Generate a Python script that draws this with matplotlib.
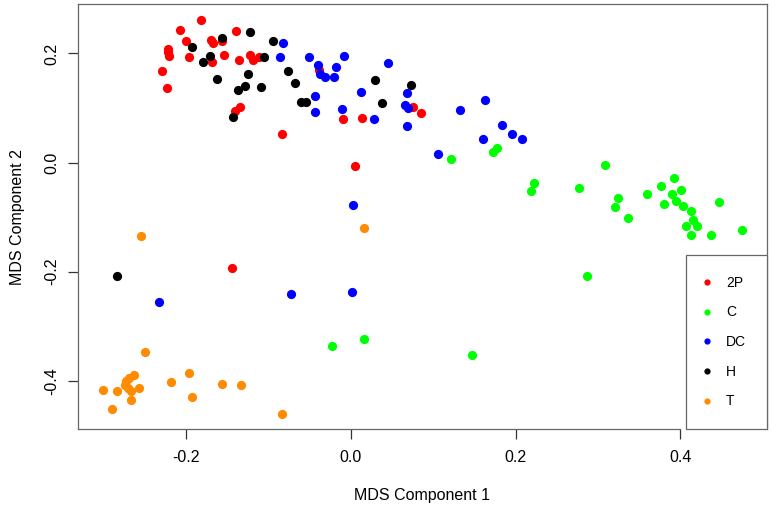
import matplotlib
matplotlib.use("Agg")
import matplotlib.pyplot as plt
from matplotlib.lines import Line2D

plt.rcParams['font.family'] = ['Liberation Sans', 'DejaVu Sans']

groups = ["2P", "C", "DC", "H", "T"]
colors = ["#FF0000", "#00FF00", "#0000FF", "#000000", "#FF8C00"]

x_2p = [-0.182, -0.207, -0.200, -0.222, -0.222, -0.221, -0.197, -0.230, -0.223,
        -0.170, -0.168, -0.156, -0.154, -0.169, -0.140, -0.136, -0.122, -0.119,
        -0.112, -0.141, -0.135, -0.084, -0.039, -0.009, 0.014, 0.075, 0.085,
        0.005, -0.144]
y_2p = [0.261, 0.243, 0.223, 0.209, 0.203, 0.196, 0.194, 0.168, 0.137,
        0.225, 0.219, 0.223, 0.198, 0.184, 0.241, 0.188, 0.198, 0.188,
        0.193, 0.095, 0.101, 0.053, 0.170, 0.080, 0.082, 0.102, 0.091,
        -0.006, -0.194]

x_c = [0.121, 0.172, 0.177, 0.223, 0.219, 0.309, 0.277, 0.324, 0.321, 0.336,
       0.360, 0.377, 0.392, 0.401, 0.390, 0.380, 0.395, 0.403, 0.413, 0.415,
       0.407, 0.420, 0.413, 0.437, 0.447, 0.475, 0.287, 0.147, -0.023, 0.016]
y_c = [0.007, 0.019, 0.026, -0.038, -0.052, -0.005, -0.047, -0.065, -0.081, -0.102,
       -0.058, -0.042, -0.028, -0.050, -0.058, -0.075, -0.071, -0.079, -0.089, -0.106,
       -0.116, -0.116, -0.133, -0.133, -0.072, -0.124, -0.207, -0.353, -0.337, -0.323]

x_dc = [-0.083, -0.086, -0.051, -0.040, -0.018, -0.008, -0.038, -0.031, -0.021,
        -0.043, -0.044, -0.011, 0.045, 0.012, 0.028, 0.068, 0.066, 0.069, 0.068,
        0.133, 0.163, 0.184, 0.196, 0.208, 0.161, 0.106, 0.003, -0.233, -0.073, 0.001]
y_dc = [0.220, 0.194, 0.193, 0.179, 0.176, 0.195, 0.163, 0.157, 0.157,
        0.122, 0.093, 0.098, 0.183, 0.129, 0.080, 0.128, 0.105, 0.100, 0.068,
        0.096, 0.115, 0.069, 0.052, 0.043, 0.044, 0.015, -0.078, -0.256, -0.241, -0.238]

x_h = [-0.193, -0.156, -0.123, -0.095, -0.171, -0.180, -0.163, -0.125, -0.106,
       -0.076, -0.068, -0.137, -0.129, -0.109, -0.061, -0.055, -0.143, 0.029,
       0.038, 0.073, -0.284]
y_h = [0.212, 0.229, 0.239, 0.223, 0.196, 0.185, 0.153, 0.163, 0.194,
       0.168, 0.145, 0.133, 0.140, 0.139, 0.111, 0.111, 0.083, 0.151,
       0.109, 0.142, -0.208]

x_t = [-0.255, 0.016, -0.250, -0.264, -0.270, -0.273, -0.274, -0.271, -0.301,
       -0.284, -0.267, -0.257, -0.267, -0.290, -0.218, -0.197, -0.193, -0.156,
       -0.133, -0.084]
y_t = [-0.134, -0.120, -0.348, -0.389, -0.394, -0.400, -0.408, -0.413, -0.417,
       -0.418, -0.418, -0.413, -0.435, -0.451, -0.403, -0.386, -0.429, -0.406,
       -0.408, -0.460]

xs = [x_2p, x_c, x_dc, x_h, x_t]
ys = [y_2p, y_c, y_dc, y_h, y_t]

xticks = [-0.2, 0.0, 0.2, 0.4]
xticklabels = ["-0.2", "0.0", "0.2", "0.4"]
yticks = [-0.4, -0.2, 0.0, 0.2]
yticklabels = ["-0.4", "-0.2", "0.0", "0.2"]

fig = plt.figure(figsize=(7.72, 5.12), dpi=100)
ax = fig.add_axes([0.1014, 0.1615, 0.8917, 0.8307])

for xv, yv, col in zip(xs, ys, colors):
    ax.scatter(xv, yv, s=44, c=col, linewidths=0, zorder=3)

ax.set_xlim(-0.3311, 0.5050)
ax.set_ylim(-0.4888, 0.2907)

ax.set_xticks(xticks)
ax.set_xticklabels(xticklabels)
ax.set_yticks(yticks)
ax.set_yticklabels(yticklabels, rotation=90, va='center')

ax.tick_params(axis='both', direction='out', length=7.2, width=0.9,
               color='#333333', labelsize=11.5, labelcolor='#000000')
ax.tick_params(axis='x', pad=8)
ax.tick_params(axis='y', pad=6.2)

for side in ['left', 'top', 'right', 'bottom']:
    ax.spines[side].set_color('#666666')
    ax.spines[side].set_linewidth(0.9)
ax.spines['bottom'].set_bounds(-0.3311, 0.4)

ax.set_xlabel("MDS Component 1", fontsize=11.5, labelpad=16.5)
ax.set_ylabel("MDS Component 2", fontsize=11.5, labelpad=14)

handles = [Line2D([], [], marker='o', linestyle='none', markersize=4.5,
                  markerfacecolor=c, markeredgewidth=0) for c in colors]
leg = ax.legend(handles, groups, loc='lower right', bbox_to_anchor=(1.0, 0.0),
                borderaxespad=0, fontsize=10, frameon=True, fancybox=False,
                edgecolor='#666666', framealpha=1, labelspacing=1.13,
                borderpad=1.5, handlelength=0.05, handletextpad=1.33)
leg.get_frame().set_linewidth(0.9)
leg.set_zorder(5)

fig.savefig("out.png", dpi=100)
